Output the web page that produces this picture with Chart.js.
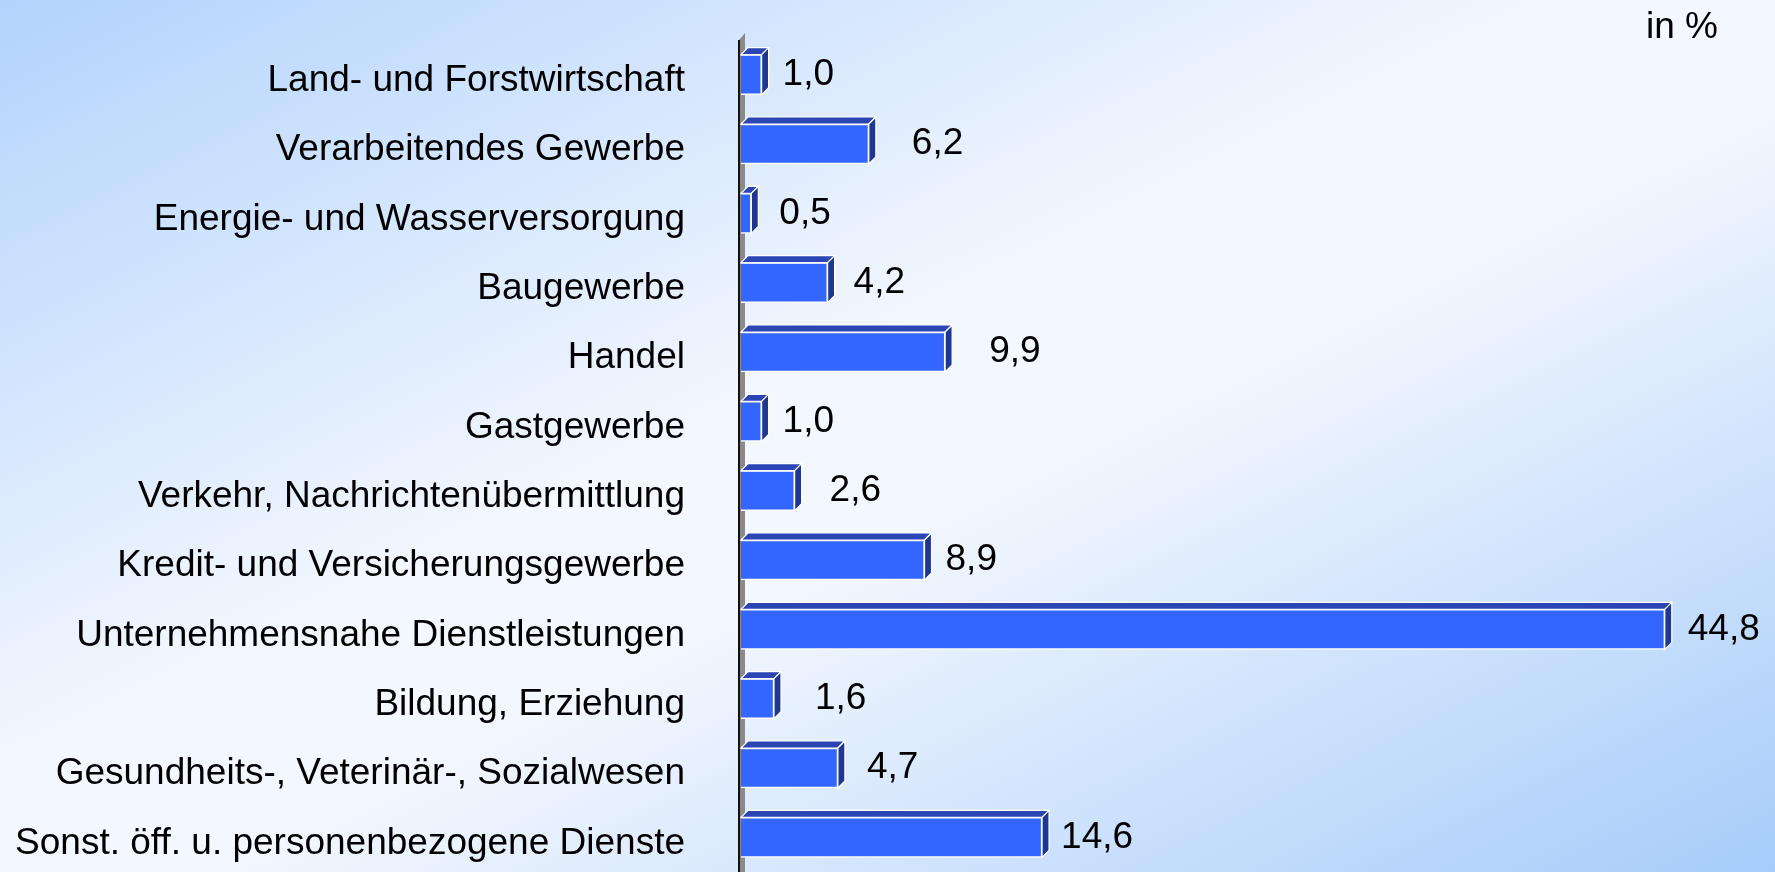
<!DOCTYPE html>
<html>
<head>
<meta charset="utf-8">
<script src="https://cdn.jsdelivr.net/npm/chart.js@4/dist/chart.umd.min.js"></script>
<style>
  html, body { margin: 0; padding: 0; }
  body {
    width: 1775px; height: 872px; overflow: hidden;
    background: linear-gradient(to bottom right, #b2d3fc 0%, #f3f7fe 44%, #f3f7fe 56%, #a6ccfa 100%);
  }
  canvas { display: block; }
</style>
</head>
<body>
<canvas id="branchen" width="1775" height="872"></canvas>
<script>
// Branchen und Anteile (in %)
const branchen = [
  "Land- und Forstwirtschaft",
  "Verarbeitendes Gewerbe",
  "Energie- und Wasserversorgung",
  "Baugewerbe",
  "Handel",
  "Gastgewerbe",
  "Verkehr, Nachrichtenübermittlung",
  "Kredit- und Versicherungsgewerbe",
  "Unternehmensnahe Dienstleistungen",
  "Bildung, Erziehung",
  "Gesundheits-, Veterinär-, Sozialwesen",
  "Sonst. öff. u. personenbezogene Dienste"
];
const anteile = [1.0, 6.2, 0.5, 4.2, 9.9, 1.0, 2.6, 8.9, 44.8, 1.6, 4.7, 14.6];
const einheit = "in %";

// Abstand der Wertbeschriftung vom Balkenende (px)
const labelGap = [21, 43, 28, 26, 44, 21, 35, 21, 23, 41, 29, 19];

const FONT = "'Liberation Sans', Arial, sans-serif";
const DEPTH = 7;

// Wand hinter den Balken (grauer 3D-Streifen)
const wandPlugin = {
  id: "wand",
  beforeDatasetsDraw(chart) {
    const ctx = chart.ctx;
    const left = chart.chartArea.left;
    ctx.save();
    ctx.fillStyle = "#8a8a8a";
    ctx.beginPath();
    ctx.moveTo(left - 2, 40);
    ctx.lineTo(left + 4, 33);
    ctx.lineTo(left + 4, 872);
    ctx.lineTo(left - 2, 872);
    ctx.closePath();
    ctx.fill();
    ctx.fillStyle = "#111";
    ctx.fillRect(left - 3, 40, 2, 832);
    ctx.restore();
  }
};

// 3D-Flächen der Balken + Wertbeschriftung
const balken3d = {
  id: "balken3d",
  afterDatasetsDraw(chart) {
    const ctx = chart.ctx;
    const meta = chart.getDatasetMeta(0);
    ctx.save();
    meta.data.forEach((el, i) => {
      const p = el.getProps(["x", "y", "base", "height"], true);
      const top = p.y - p.height / 2;
      const bottom = p.y + p.height / 2;
      // Oberseite
      ctx.beginPath();
      ctx.moveTo(p.base, top);
      ctx.lineTo(p.base + DEPTH, top - DEPTH);
      ctx.lineTo(p.x + DEPTH, top - DEPTH);
      ctx.lineTo(p.x, top);
      ctx.closePath();
      ctx.fillStyle = "#2b45b5";
      ctx.fill();
      ctx.strokeStyle = "#ffffff";
      ctx.lineWidth = 1.2;
      ctx.stroke();
      // Seite
      ctx.beginPath();
      ctx.moveTo(p.x, top);
      ctx.lineTo(p.x + DEPTH, top - DEPTH);
      ctx.lineTo(p.x + DEPTH, bottom - DEPTH);
      ctx.lineTo(p.x, bottom);
      ctx.closePath();
      ctx.fillStyle = "#1f378f";
      ctx.fill();
      ctx.stroke();
      // Wert
      ctx.fillStyle = "#000";
      ctx.font = "37px " + FONT;
      ctx.textAlign = "left";
      ctx.textBaseline = "middle";
      ctx.fillText(anteile[i].toFixed(1).replace(".", ","), p.x + labelGap[i], p.y);
    });
    // Einheit oben rechts
    ctx.fillText(einheit, 1646, 28);
    ctx.restore();
  }
};

new Chart(document.getElementById("branchen"), {
  type: "bar",
  data: {
    labels: branchen,
    datasets: [{
      data: anteile,
      backgroundColor: "#3366ff",
      borderColor: "#ffffff",
      borderWidth: 1.5,
      barThickness: 40
    }]
  },
  options: {
    indexAxis: "y",
    responsive: false,
    animation: false,
    maintainAspectRatio: false,
    layout: { padding: { top: 40, right: 3, bottom: 0, left: 0 } },
    plugins: { legend: { display: false }, tooltip: { enabled: false } },
    scales: {
      x: { display: false, min: 0, max: 50 },
      y: {
        afterFit(scale) {
          scale.width = 741;
          scale.paddingTop = 0;
          scale.paddingBottom = 0;
        },
        grid: { display: false, drawTicks: false },
        border: { display: false },
        ticks: {
          color: "#000",
          padding: 56,
          labelOffset: 6,
          font: { size: 37, family: FONT }
        }
      }
    }
  },
  plugins: [wandPlugin, balken3d]
});
</script>
</body>
</html>
